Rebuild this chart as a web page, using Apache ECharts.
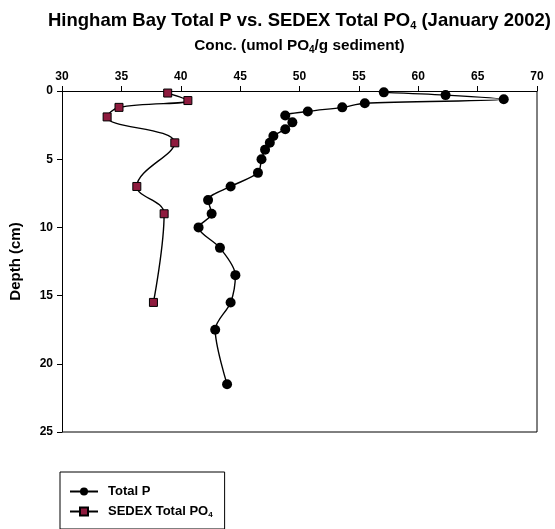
<!DOCTYPE html>
<html>
<head>
<meta charset="utf-8">
<script src="https://cdn.jsdelivr.net/npm/echarts@6/dist/echarts.min.js"></script>
<style>
  html, body { margin: 0; padding: 0; background: #fff; }
  #chart { width: 555px; height: 529px; }
</style>
</head>
<body>
<div id="chart"></div>
<script>
// Total P profile (umol PO4/g sediment vs depth in cm)
const totalPDepth = [0.1, 0.3, 0.6, 0.9, 1.2, 1.5, 1.8, 2.3, 2.8, 3.3, 3.8, 4.3, 5, 6, 7, 8, 9, 10, 11.5, 13.5, 15.5, 17.5, 21.5];
const totalPConc  = [57.1, 62.3, 67.2, 55.5, 53.6, 50.7, 48.8, 49.4, 48.8, 47.8, 47.5, 47.1, 46.8, 46.5, 44.2, 42.3, 42.6, 41.5, 43.3, 44.6, 44.2, 42.9, 43.9];

// SEDEX total PO4 profile
const sedexDepth = [0.15, 0.7, 1.2, 1.9, 3.8, 7, 9, 15.5];
const sedexConc  = [38.9, 40.6, 34.8, 33.8, 39.5, 36.3, 38.6, 37.7];

// Axis ranges
const concMin = 30, concMax = 70, concStep = 5;
const depthMin = 0, depthMax = 25, depthStep = 5;

const pairs = (xs, ys) => xs.map((x, i) => [x, ys[i]]);

const FONT = '"Liberation Sans", Arial, sans-serif';
const chart = echarts.init(document.getElementById('chart'), null, { renderer: 'canvas' });

chart.setOption({
  backgroundColor: '#fff',
  animation: false,
  title: {
    text: '{a|Hingham Bay Total P vs. SEDEX Total PO}{s|4}{a| (January 2002)}',
    left: 43,
    top: 6,
    textStyle: {
      rich: {
        a: { fontFamily: FONT, fontWeight: 'bold', fontSize: 18.5, color: '#000' },
        s: { fontFamily: FONT, fontWeight: 'bold', fontSize: 11, color: '#000', padding: [9, 0, 0, 0] }
      }
    }
  },
  grid: { left: 62, right: 18, top: 91, bottom: 97, containLabel: false },
  xAxis: {
    type: 'value',
    position: 'top',
    min: concMin, max: concMax, interval: concStep,
    name: '{a|Conc. (umol PO}{s|4}{a|/g sediment)}',
    nameLocation: 'middle',
    nameGap: 36,
    nameTextStyle: {
      rich: {
        a: { fontFamily: FONT, fontWeight: 'bold', fontSize: 15.3, color: '#000' },
        s: { fontFamily: FONT, fontWeight: 'bold', fontSize: 10, color: '#000', padding: [8, 0, 0, 0] }
      }
    },
    axisLine: { show: true, lineStyle: { color: '#000', width: 1 } },
    axisTick: { show: true, inside: false, length: 5, lineStyle: { color: '#000' } },
    axisLabel: { fontFamily: FONT, fontWeight: 'bold', fontSize: 12, color: '#000', margin: 8 },
    splitLine: { show: false }
  },
  yAxis: {
    type: 'value',
    inverse: true,
    min: depthMin, max: depthMax, interval: depthStep,
    name: 'Depth (cm)',
    nameLocation: 'middle',
    nameGap: 39,
    nameTextStyle: { fontFamily: FONT, fontWeight: 'bold', fontSize: 15, color: '#000' },
    axisLine: { show: true, lineStyle: { color: '#000', width: 1 } },
    axisTick: { show: true, inside: false, length: 5, lineStyle: { color: '#000' } },
    axisLabel: { fontFamily: FONT, fontWeight: 'bold', fontSize: 12, color: '#000', margin: 9 },
    splitLine: { show: false }
  },
  legend: {
    orient: 'vertical',
    left: 60,
    top: 472,
    padding: [13, 12, 10, 9],
    itemGap: 7,
    itemWidth: 28,
    itemHeight: 10,
    borderColor: '#000',
    borderWidth: 1,
    data: ['Total P', 'SEDEX Total PO4'],
    formatter: (name) => name === 'SEDEX Total PO4' ? '{a|SEDEX Total PO}{s|4}' : '{a|' + name + '}',
    textStyle: {
      rich: {
        a: { fontFamily: FONT, fontWeight: 'bold', fontSize: 13, color: '#000', padding: [0, 0, 0, 5] },
        s: { fontFamily: FONT, fontWeight: 'bold', fontSize: 8, color: '#000', padding: [7, 0, 0, 0] }
      }
    }
  },
  series: [
    {
      name: 'Total P',
      type: 'line',
      data: pairs(totalPConc, totalPDepth),
      smooth: 0.3,
      symbol: 'circle',
      symbolSize: 10,
      lineStyle: { color: '#000', width: 1.4 },
      itemStyle: { color: '#000', borderColor: '#000', borderWidth: 0 },
      z: 3
    },
    {
      name: 'SEDEX Total PO4',
      type: 'line',
      data: pairs(sedexConc, sedexDepth),
      smooth: 0.4,
      symbol: 'rect',
      symbolSize: 8,
      lineStyle: { color: '#000', width: 1.4 },
      itemStyle: { color: '#8e1b3e', borderColor: '#000', borderWidth: 1 },
      z: 4
    }
  ]
});

// Close the plot box with right and bottom border lines placed via the axis scales
const tl = chart.convertToPixel({ gridIndex: 0 }, [concMin, depthMin]);
const br = chart.convertToPixel({ gridIndex: 0 }, [concMax, depthMax]);
chart.setOption({
  graphic: [{
    type: 'polyline',
    shape: { points: [[tl[0], br[1]], [br[0], br[1]], [br[0], tl[1]]] },
    style: { stroke: '#000', lineWidth: 1, fill: null },
    silent: true
  }]
});
</script>
</body>
</html>
